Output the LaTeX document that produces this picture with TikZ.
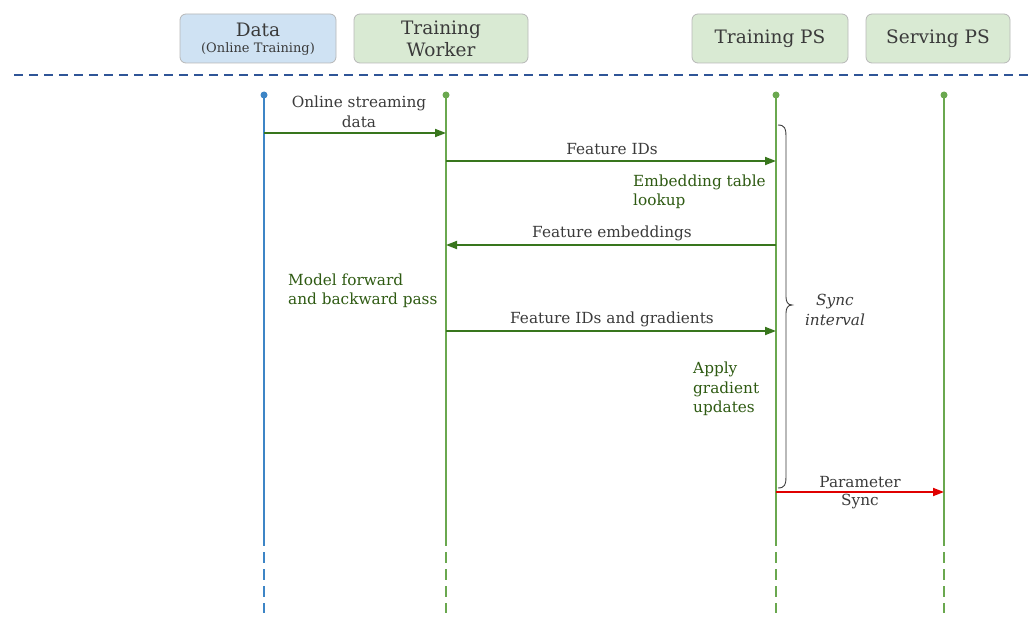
\documentclass[tikz,border=0pt]{standalone}
\usepackage{fontspec}
\setmainfont{DejaVu Serif}
\usetikzlibrary{arrows.meta,decorations.pathreplacing}
\definecolor{boxblue}{HTML}{CFE2F3}
\definecolor{boxgreen}{HTML}{D9EAD3}
\definecolor{boxline}{HTML}{B7B7B7}
\definecolor{txt}{HTML}{3A3A3A}
\definecolor{lifeblue}{HTML}{3D85C6}
\definecolor{lifegreen}{HTML}{6AA84F}
\definecolor{arrgreen}{HTML}{38761D}
\definecolor{notegreen}{HTML}{2E5A12}
\definecolor{sepblue}{HTML}{2F5597}
\definecolor{syncred}{HTML}{E00000}
\tikzset{
  hdr/.style={draw=boxline, line width=0.8pt, rounded corners=6pt, minimum height=49pt, align=center, text=txt, font=\fontsize{18.5}{20}\selectfont, inner sep=0pt},
  lbl/.style={text=txt, font=\fontsize{15.3}{19.5}\selectfont, align=center, inner sep=0pt},
  note/.style={text=notegreen, font=\fontsize{15.3}{19.5}\selectfont, align=left, inner sep=0pt, anchor=west},
  msg/.style={draw=arrgreen, line width=1.8pt, -{Triangle[length=11pt,width=8pt]}},
  life/.style={line width=2.4pt},
  lifedash/.style={line width=2.4pt, dash pattern=on 11pt off 6pt},
  dot/.style={circle, inner sep=0pt, minimum size=7pt},
}
\begin{document}
\begin{tikzpicture}[x=1pt,y=-1pt]
\useasboundingbox (0,0) rectangle (1034,626);
% headers
\node[hdr, fill=boxblue, minimum width=156pt] (hd) at (258,38.5) {};
\node[text=txt, font=\fontsize{18.5}{20}\selectfont, inner sep=0pt] (hdt) at (258,30) {Data};
\node[text=txt, font=\fontsize{13}{15}\selectfont, inner sep=0pt] (hdt2) at (258,49.5) {(Online Training)};
\node[hdr, fill=boxgreen, minimum width=174pt, font=\fontsize{18.5}{22}\selectfont] (hw) at (441,38.5) {Training\\Worker};
\node[hdr, fill=boxgreen, minimum width=156pt] (hp) at (770,38.5) {Training PS};
\node[hdr, fill=boxgreen, minimum width=144pt] (hs) at (938,38.5) {Serving PS};
% separator
\coordinate (sepL) at (14,75);
\coordinate (sepR) at (1030,75);
\draw[sepblue, line width=1.1pt, dash pattern=on 9pt off 6pt] (sepL) -- (sepR);
% lifelines
\foreach \n/\x/\c in {d/264/lifeblue, w/446/lifegreen, p/776/lifegreen, s/944/lifegreen}{
  \node[dot, fill=\c] (t\n) at (\x,95) {};
  \coordinate (m\n) at (\x,540);
  \coordinate (b\n) at (\x,613);
  \draw[\c, life] (t\n.center) -- (m\n);
  \draw[\c, lifedash] ([yshift=5pt]m\n) -- (b\n);
}
% message points
\coordinate (a1s) at (264,133); \coordinate (a1e) at (446,133);
\coordinate (a2s) at (446,161); \coordinate (a2e) at (776,161);
\coordinate (a3s) at (776,245); \coordinate (a3e) at (446,245);
\coordinate (a4s) at (446,331); \coordinate (a4e) at (776,331);
\coordinate (a5s) at (776,492); \coordinate (a5e) at (944,492);
\draw[msg] (a1s) -- (a1e);
\draw[msg] (a2s) -- (a2e);
\draw[msg] (a3s) -- (a3e);
\draw[msg] (a4s) -- (a4e);
\draw[msg, draw=syncred, -{Triangle[length=11pt,width=8pt,fill=syncred]}] (a5s) -- (a5e);
% labels
\node[lbl] (l1) at (359,112) {Online streaming\\data};
\node[lbl] (l2) at (612,149) {Feature IDs};
\node[lbl] (l3) at (612,233) {Feature embeddings};
\node[lbl] (l4) at (612,319) {Feature IDs and gradients};
\node[lbl] (l5a) at (860,482) {Parameter};
\node[lbl] (l5b) at (860,502) {Sync};
% notes
\node[note] (n1) at (633,192) {Embedding table\\lookup};
\node[note] (n2) at (288,291) {Model forward\\and backward pass};
\node[note] (n3) at (693,389) {Apply\\gradient\\updates};
% brace
\coordinate (brT) at (778,125);
\coordinate (brB) at (778,488);
\draw[txt, line width=0.9pt] (brT) .. controls (785,125) and (786,129) .. (786,136)
  -- (786,297) .. controls (786,302) and (788,305) .. (792,305)
  .. controls (788,305) and (786,308) .. (786,313)
  -- (786,477) .. controls (786,484) and (785,488) .. (brB);
\node[lbl, font=\itshape\fontsize{15.3}{19.5}\selectfont] (si) at (835,310) {Sync\\interval};
\end{tikzpicture}
\end{document}
